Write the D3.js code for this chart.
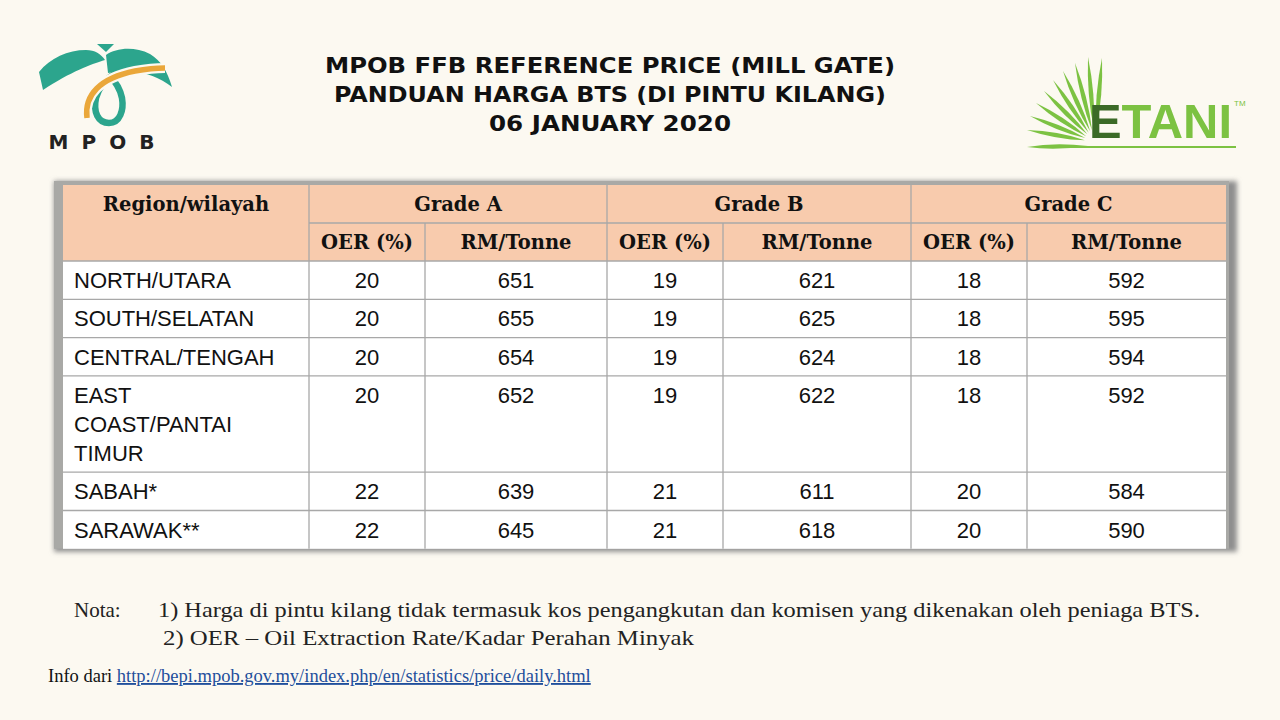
<!DOCTYPE html>
<html>
<head>
<meta charset="utf-8">
<script src="https://cdn.jsdelivr.net/npm/d3@7"></script>
<style>
  html, body { margin: 0; padding: 0; background: #fcf9f1; }
  svg { display: block; }
</style>
</head>
<body>
<div id="chart"></div>
<script>
// ---- data ----
const titleLines = ["MPOB FFB REFERENCE PRICE (MILL GATE)", "PANDUAN HARGA BTS (DI PINTU KILANG)", "06 JANUARY 2020"];
const regions = [["NORTH/UTARA"], ["SOUTH/SELATAN"], ["CENTRAL/TENGAH"], ["EAST", "COAST/PANTAI", "TIMUR"], ["SABAH*"], ["SARAWAK**"]];
const grades = ["Grade A", "Grade B", "Grade C"];
const subHeaders = ["OER (%)", "RM/Tonne"];
const oerA = [20, 20, 20, 20, 22, 22];
const priceA = [651, 655, 654, 652, 639, 645];
const oerB = [19, 19, 19, 19, 21, 21];
const priceB = [621, 625, 624, 622, 611, 618];
const oerC = [18, 18, 18, 18, 20, 20];
const priceC = [592, 595, 594, 592, 584, 590];
const notes = ["1) Harga di pintu kilang tidak termasuk kos pengangkutan dan komisen yang dikenakan oleh peniaga BTS.",
               "2) OER \u2013 Oil Extraction Rate/Kadar Perahan Minyak"];
const sourceUrl = "http://bepi.mpob.gov.my/index.php/en/statistics/price/daily.html";

// ---- layout ----
const W = 1280, H = 720;
const table = { x: 63, y: 185 };
const colWidths = [246, 116, 182, 116, 188, 116, 199];
const headH = 38, lineH = 29, rowBase = 38.3;
const colX = [table.x, ...Array.from(d3.cumsum(colWidths), d => table.x + d)];
const tableW = d3.sum(colWidths);

const rowHeights = regions.map(r => rowBase + (r.length - 1) * lineH);
const bodyTop = table.y + 2 * headH;
const rowY = [bodyTop, ...Array.from(d3.cumsum(rowHeights), d => bodyTop + d)];
const tableBottom = rowY[rowY.length - 1];
const tableH = tableBottom - table.y;

const series = [oerA, priceA, oerB, priceB, oerC, priceC];

const svg = d3.select("#chart").append("svg")
  .attr("width", W).attr("height", H);

const defs = svg.append("defs");
defs.append("filter").attr("id", "shadow").attr("x", "-5%").attr("y", "-5%").attr("width", "110%").attr("height", "110%")
  .append("feGaussianBlur").attr("stdDeviation", 2.5);

svg.append("rect").attr("width", W).attr("height", H).attr("fill", "#fcf9f1");

// ---- title ----
svg.append("g").selectAll("text").data(titleLines).join("text")
  .attr("x", 610).attr("y", (d, i) => 73 + i * 29)
  .attr("text-anchor", "middle")
  .attr("font-family", "'DejaVu Sans', sans-serif").attr("font-weight", "bold")
  .attr("font-size", 21).attr("fill", "#111")
  .attr("textLength", (d, i) => [570, 552, 242][i]).attr("lengthAdjust", "spacingAndGlyphs")
  .text(d => d);

// ---- MPOB logo ----
const mpob = svg.append("g");
const teal = "#2ca58d", orange = "#eaa73a", bg = "#fcf9f1";
mpob.append("path").attr("fill", teal)
  .attr("d", "M39,72 C50,58 68,50 86,50 C95,50 101,54 105,60 C92,64 70,72 43,90 Z");
mpob.append("path").attr("fill", teal)
  .attr("d", "M106,55 C116,48 134,46 150,54 C161,61 167,70 172,87 C160,78 146,72 130,71 C121,71 114,72 108,73 Z");
mpob.append("path").attr("fill", teal)
  .attr("d", "M97,44 L114,44 L106,52 Z");
mpob.append("path").attr("fill", "none").attr("stroke", teal).attr("stroke-width", 6.5)
  .attr("d", "M150,64 C120,65 101,79 96,98 C93,112 98,123 109,123 C120,123 124,110 122,98 C120,88 115,81 109,75");
mpob.append("path").attr("fill", "none").attr("stroke", bg).attr("stroke-width", 10)
  .attr("d", "M87,118 C84,95 100,78 135,71 C146,69 155,68 165,68");
mpob.append("path").attr("fill", "none").attr("stroke", orange).attr("stroke-width", 5.5)
  .attr("d", "M87,118 C84,95 100,78 135,71 C146,69 155,68 165,68");
mpob.append("text").attr("x", 108).attr("y", 149).attr("text-anchor", "middle")
  .attr("font-family", "'DejaVu Sans', sans-serif").attr("font-weight", "bold").attr("font-size", 20)
  .attr("letter-spacing", 13).attr("fill", "#222").text("MPOB");

// ---- ETANI logo ----
const etani = svg.append("g");
const leafTips = [[1027, 130], [1030, 116], [1036, 103], [1044, 91], [1053, 80], [1063, 71], [1075, 63], [1088, 57], [1102, 58]];
const pivot = [1095, 142];
etani.selectAll("path.leaf").data(leafTips).join("path").attr("class", "leaf")
  .attr("fill", "#7cc242")
  .attr("d", d => {
    const dx = pivot[0] - d[0], dy = pivot[1] - d[1];
    const len = Math.hypot(dx, dy), nx = -dy / len * 4.5, ny = dx / len * 4.5;
    const mx = d[0] + dx * 0.45, my = d[1] + dy * 0.45;
    const ex = d[0] + dx * 0.85, ey = d[1] + dy * 0.85;
    return `M${d[0]},${d[1]} Q${mx + nx},${my + ny} ${ex},${ey} Q${mx - nx},${my - ny} ${d[0]},${d[1]} Z`;
  });
etani.append("path").attr("fill", "#7cc242")
  .attr("d", "M1027,147 Q1055,142 1088,146 Q1055,151 1027,147 Z");
etani.append("line").attr("x1", 1040).attr("x2", 1236).attr("y1", 147).attr("y2", 147)
  .attr("stroke", "#7cc242").attr("stroke-width", 2);
const etaniText = etani.append("text").attr("x", 1089).attr("y", 138)
  .attr("font-family", "'Liberation Sans', Arial, sans-serif").attr("font-weight", "bold").attr("font-size", 48)
  .attr("textLength", 143).attr("lengthAdjust", "spacingAndGlyphs");
etaniText.append("tspan").attr("fill", "#3b6a27").text("E");
etaniText.append("tspan").attr("fill", "#7cc242").text("TANI");
etani.append("text").attr("x", 1234).attr("y", 106)
  .attr("font-family", "'Liberation Sans', sans-serif").attr("font-size", 8).attr("fill", "#7cc242").text("TM");

// ---- table frame with shadow ----
svg.append("rect")
  .attr("x", table.x - 9).attr("y", table.y - 4)
  .attr("width", tableW + 20).attr("height", tableH + 7)
  .attr("fill", "#8f8f8f").attr("filter", "url(#shadow)");
svg.append("rect")
  .attr("x", table.x - 9).attr("y", table.y - 4)
  .attr("width", tableW + 12).attr("height", tableH + 4)
  .attr("fill", "#a9a9a6");

const tbl = svg.append("g");
const headFill = "#f8cbad", gridCol = "#a8a8a8";

tbl.append("rect").attr("x", table.x).attr("y", table.y)
  .attr("width", tableW).attr("height", 2 * headH).attr("fill", headFill);
tbl.append("rect").attr("x", table.x).attr("y", bodyTop)
  .attr("width", tableW).attr("height", tableBottom - bodyTop).attr("fill", "#fff");

// grid lines
const gridG = tbl.append("g").attr("stroke", gridCol).attr("stroke-width", 1.3);
gridG.append("line").attr("x1", colX[1]).attr("x2", colX[7]).attr("y1", table.y + headH).attr("y2", table.y + headH);
gridG.selectAll("line.h").data(rowY.slice(0, -1)).join("line").attr("class", "h")
  .attr("x1", table.x).attr("x2", colX[7]).attr("y1", d => d).attr("y2", d => d);
gridG.selectAll("line.vg").data([1, 3, 5]).join("line").attr("class", "vg")
  .attr("x1", i => colX[i]).attr("x2", i => colX[i]).attr("y1", table.y).attr("y2", tableBottom);
gridG.selectAll("line.vs").data([2, 4, 6]).join("line").attr("class", "vs")
  .attr("x1", i => colX[i]).attr("x2", i => colX[i]).attr("y1", table.y + headH).attr("y2", tableBottom);

// header text
const headFont = "'DejaVu Serif', Georgia, serif";
tbl.append("text").attr("x", (colX[0] + colX[1]) / 2).attr("y", table.y + 26)
  .attr("text-anchor", "middle").attr("font-family", headFont).attr("font-weight", "bold")
  .attr("font-size", 19.5).attr("fill", "#111").text("Region/wilayah");
tbl.selectAll("text.grade").data(grades).join("text").attr("class", "grade")
  .attr("x", (d, i) => (colX[1 + 2 * i] + colX[3 + 2 * i]) / 2).attr("y", table.y + 26)
  .attr("text-anchor", "middle").attr("font-family", headFont).attr("font-weight", "bold")
  .attr("font-size", 19.5).attr("fill", "#111").text(d => d);
tbl.selectAll("text.sub").data(d3.range(6)).join("text").attr("class", "sub")
  .attr("x", i => (colX[1 + i] + colX[2 + i]) / 2).attr("y", table.y + headH + 26)
  .attr("text-anchor", "middle").attr("font-family", headFont).attr("font-weight", "bold")
  .attr("font-size", 19.5).attr("fill", "#111").text(i => subHeaders[i % 2]);

// body text
const bodyFont = "'Liberation Sans', Arial, sans-serif";
const rows = tbl.selectAll("g.row").data(regions).join("g").attr("class", "row")
  .attr("transform", (d, i) => `translate(0,${rowY[i]})`);
rows.append("text")
  .attr("font-family", bodyFont).attr("font-size", 22).attr("fill", "#111")
  .selectAll("tspan").data(d => d).join("tspan")
  .attr("x", table.x + 11).attr("y", (d, j) => 27 + j * lineH).text(d => d);
rows.each(function (d, ri) {
  d3.select(this).selectAll("text.val").data(series).join("text").attr("class", "val")
    .attr("x", (s, ci) => (colX[1 + ci] + colX[2 + ci]) / 2).attr("y", 27)
    .attr("text-anchor", "middle").attr("font-family", bodyFont).attr("font-size", 22).attr("fill", "#111")
    .text(s => s[ri]);
});

// ---- notes ----
const noteFont = "'Liberation Serif', 'Times New Roman', serif";
svg.append("text").attr("x", 74).attr("y", 617).attr("font-family", noteFont)
  .attr("font-size", 21).attr("fill", "#222").text("Nota:");
svg.selectAll("text.note").data(notes).join("text").attr("class", "note")
  .attr("x", (d, i) => [158, 163][i]).attr("y", (d, i) => 617 + i * 28)
  .attr("font-family", noteFont).attr("font-size", 21).attr("fill", "#222")
  .attr("textLength", (d, i) => [1042, 531][i]).attr("lengthAdjust", "spacingAndGlyphs")
  .text(d => d);

// ---- source ----
const src = svg.append("text").attr("x", 48).attr("y", 682)
  .attr("font-family", noteFont).attr("font-size", 18.5).attr("fill", "#111");
src.append("tspan").text("Info dari ");
src.append("tspan").attr("fill", "#1f4f9c").attr("text-decoration", "underline").text(sourceUrl);
</script>
</body>
</html>
